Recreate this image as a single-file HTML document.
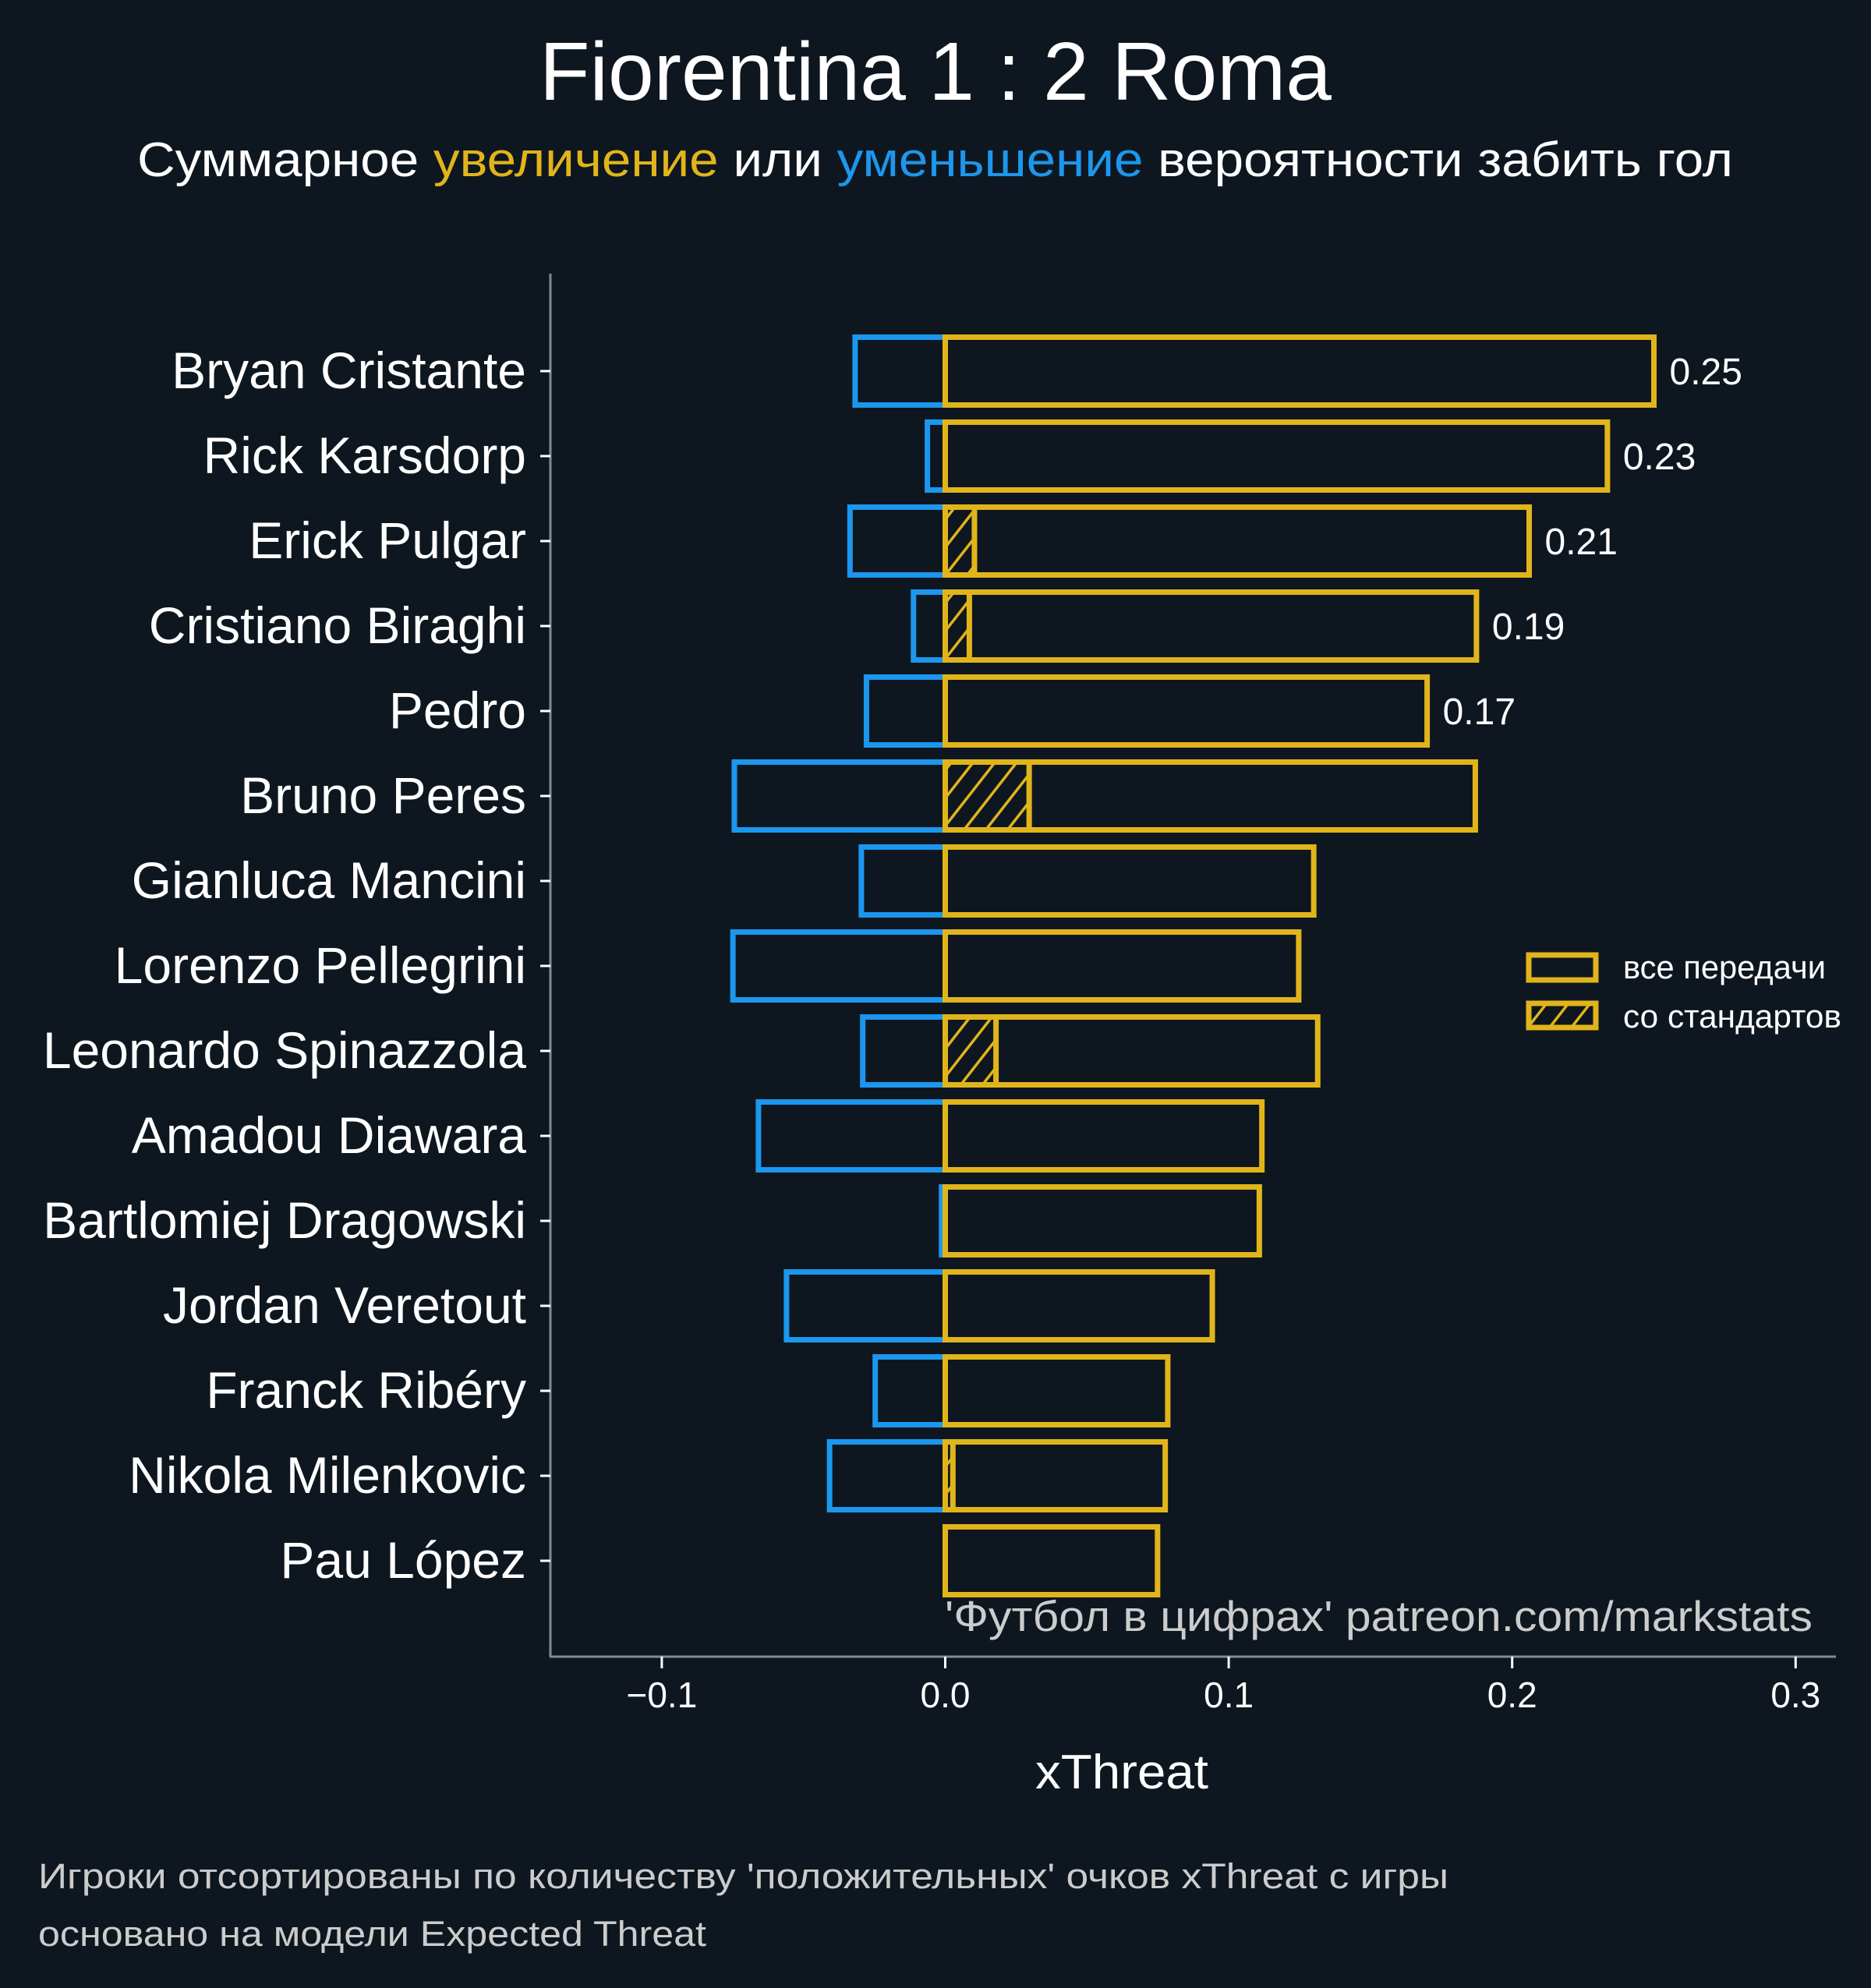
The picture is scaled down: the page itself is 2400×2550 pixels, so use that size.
<!DOCTYPE html>
<html><head><meta charset="utf-8"><style>
html,body{margin:0;padding:0;background:#0e1720;}
svg{display:block;font-family:"Liberation Sans","DejaVu Sans",sans-serif;}
</style></head><body>
<svg id="chart" width="2400" height="2550" viewBox="0 0 2400 2550" xmlns="http://www.w3.org/2000/svg">
<defs>
<pattern id="hatch" patternUnits="userSpaceOnUse" width="22" height="22" patternTransform="rotate(38)">
<line x1="0" y1="0" x2="0" y2="22" stroke="#e1b51a" stroke-width="7"/>
</pattern>
</defs>
<rect x="0" y="0" width="2400" height="2550" fill="#0e1720"/>
<text x="1200" y="128" fill="#ffffff" font-size="106" text-anchor="middle" textLength="1016" lengthAdjust="spacingAndGlyphs">Fiorentina 1 : 2 Roma</text>
<text x="176" y="226" fill="#ffffff" font-size="62" textLength="2047" lengthAdjust="spacingAndGlyphs">Суммарное <tspan fill="#e1b51a">увеличение</tspan> или <tspan fill="#1c97ee">уменьшение</tspan> вероятности забить гол</text>
<g id="plot"></g>
<line x1="706" y1="351" x2="706" y2="2125" stroke="#7f8f8c" stroke-width="3"/>
<line x1="705" y1="2125" x2="2355" y2="2125" stroke="#7f8f8c" stroke-width="3"/>
<text x="1212" y="2092" fill="#cccccc" font-size="55" textLength="1113" lengthAdjust="spacingAndGlyphs">'Футбол в цифрах' patreon.com/markstats</text>
<text x="1439" y="2294" fill="#ffffff" font-size="62" text-anchor="middle" textLength="222" lengthAdjust="spacingAndGlyphs">xThreat</text>
<g>
<rect x="1961" y="1225" width="86" height="32" fill="#0e1720" stroke="#e1b51a" stroke-width="7"/>
<text x="2082" y="1255" fill="#ffffff" font-size="42" textLength="260" lengthAdjust="spacingAndGlyphs">все передачи</text>
<rect x="1961" y="1287" width="86" height="31" fill="url(#hatch)" stroke="#e1b51a" stroke-width="7"/>
<text x="2082" y="1318" fill="#ffffff" font-size="42" textLength="280" lengthAdjust="spacingAndGlyphs">со стандартов</text>
</g>
<text x="49" y="2422" fill="#cccccc" font-size="45" textLength="1809" lengthAdjust="spacingAndGlyphs">Игроки отсортированы по количеству 'положительных' очков xThreat с игры</text>
<text x="49" y="2496" fill="#cccccc" font-size="45" textLength="857" lengthAdjust="spacingAndGlyphs">основано на модели Expected Threat</text>
</svg>
<script>
const players = ["Bryan Cristante","Rick Karsdorp","Erick Pulgar","Cristiano Biraghi","Pedro","Bruno Peres","Gianluca Mancini","Lorenzo Pellegrini","Leonardo Spinazzola","Amadou Diawara","Bartlomiej Dragowski","Jordan Veretout","Franck Ribéry","Nikola Milenkovic","Pau López"];
const positive = [0.250,0.2336,0.206,0.1874,0.170,0.187,0.130,0.1247,0.1314,0.1117,0.1108,0.0942,0.0785,0.0776,0.0749];
const negative = [-0.0318,-0.0063,-0.0336,-0.0112,-0.0278,-0.0744,-0.0296,-0.0749,-0.0291,-0.0659,-0.0013,-0.056,-0.0247,-0.0408,0];
const setPieces = [0,0,0.0103,0.0085,0,0.0296,0,0,0.0179,0,0,0,0,0.0027,0];
const valueLabels = ["0.25","0.23","0.21","0.19","0.17"];
const xTicks = [-0.1,0.0,0.1,0.2,0.3];
const xTickLabels = ["\u22120.1","0.0","0.1","0.2","0.3"];

const NS = "http://www.w3.org/2000/svg";
const svg = document.getElementById('chart');
const plot = document.getElementById('plot');
const X0 = 1212.5, XS = 3636;
function xScale(v){ return X0 + v*XS; }
const Y0 = 476, YSTEP = 109, BH = 87;
function yScale(i){ return Y0 + i*YSTEP; }
function mk(tag, attrs){ const e=document.createElementNS(NS,tag); for(const k in attrs) e.setAttribute(k,attrs[k]); return e; }

players.forEach((name,i)=>{
  const yc = yScale(i);
  const tick = mk('line',{x1:693,x2:706,y1:yc,y2:yc,stroke:'#ffffff','stroke-width':3});
  
  
  svg.appendChild(tick);
  const lab = mk('text',{x:675,y:yc+22,fill:'#ffffff','font-size':66,'text-anchor':'end'});
  lab.textContent = name;
  
  
  svg.appendChild(lab);
  if (negative[i] < 0) {
    const nb = mk('rect',{x:xScale(negative[i]),y:yc-BH/2,width:xScale(0)-xScale(negative[i]),height:BH,fill:'none',stroke:'#1c97ee','stroke-width':7});
    
    
    plot.appendChild(nb);
  }
  const pb = mk('rect',{x:xScale(0),y:yc-BH/2,width:xScale(positive[i])-xScale(0),height:BH,fill:'none',stroke:'#e1b51a','stroke-width':7});
  
  
  plot.appendChild(pb);
  if (setPieces[i] > 0) {
    const hb = mk('rect',{x:xScale(0),y:yc-BH/2,width:xScale(setPieces[i])-xScale(0),height:BH,fill:'url(#hatch)',stroke:'#e1b51a','stroke-width':7});
    
    
    plot.appendChild(hb);
  }
  if (i < valueLabels.length) {
    const vl = mk('text',{x:xScale(positive[i])+20,y:yc+17,fill:'#ffffff','font-size':48});
    vl.textContent = valueLabels[i];
    
    
    svg.appendChild(vl);
  }
});
xTicks.forEach((t,j)=>{
  const x = xScale(t);
  const tk = mk('line',{x1:x,x2:x,y1:2125,y2:2140,stroke:'#ffffff','stroke-width':3});
  
  
  svg.appendChild(tk);
  const tl = mk('text',{x:x,y:2190,fill:'#ffffff','font-size':46,'text-anchor':'middle'});
  tl.textContent = xTickLabels[j];
  
  
  svg.appendChild(tl);
});
</script>
</body></html>
